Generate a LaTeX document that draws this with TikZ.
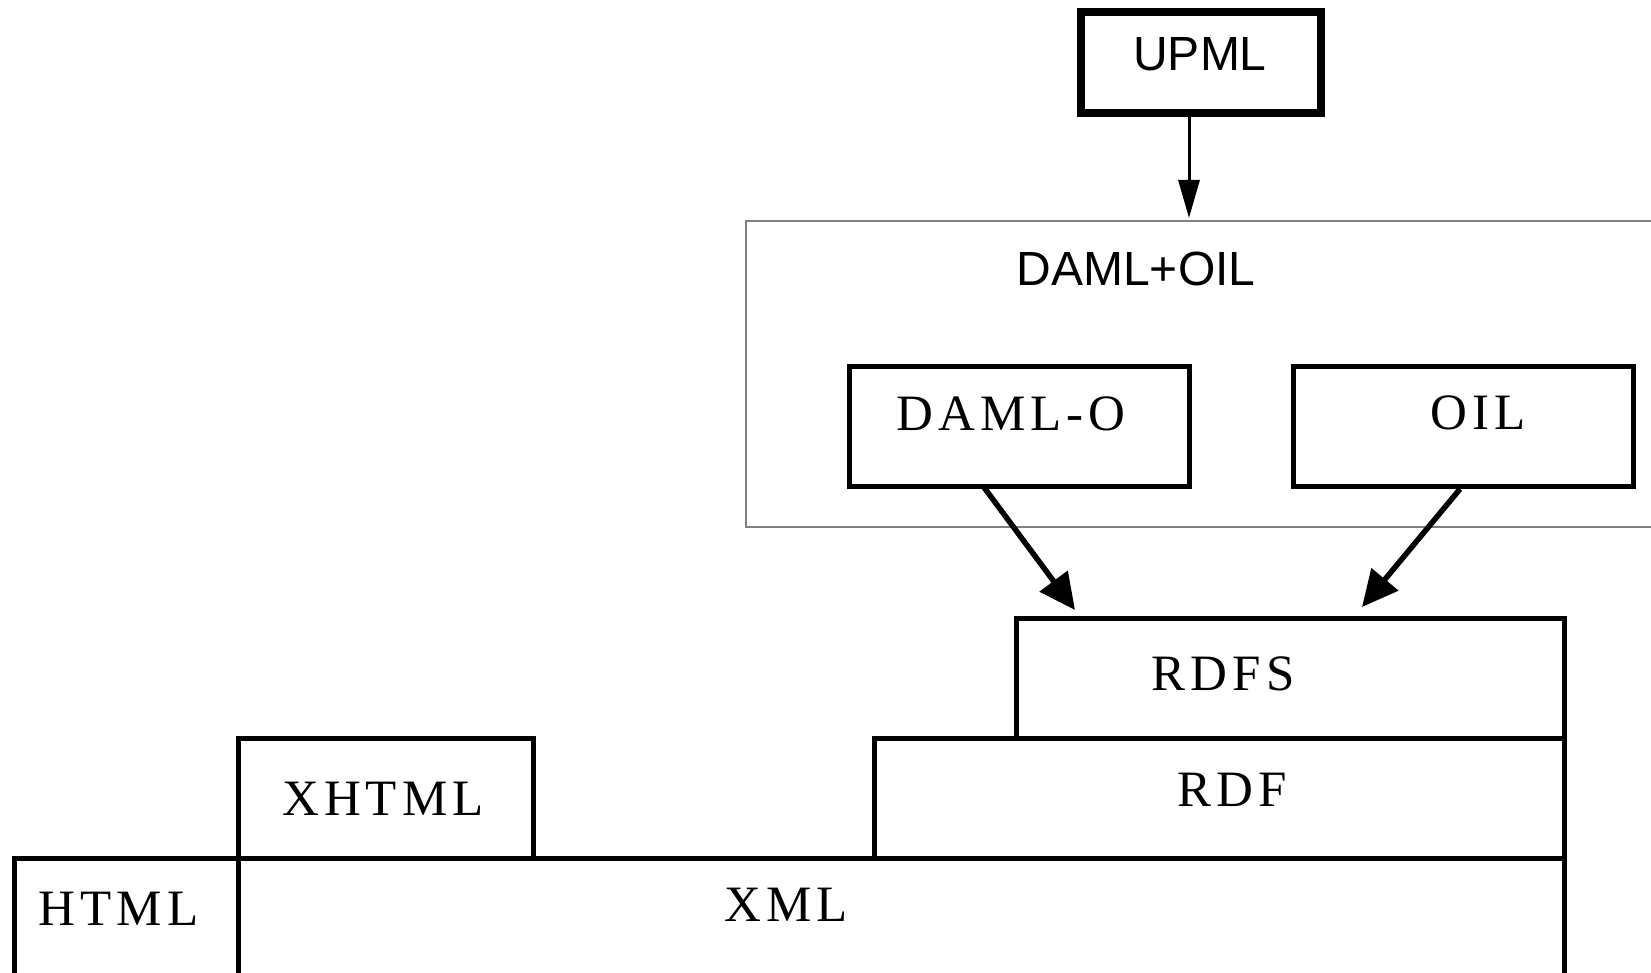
\documentclass[tikz,border=0pt]{standalone}
\usepackage{fontspec}
\setmainfont{Liberation Serif}
\newfontfamily\sansf{Liberation Sans}
\newfontfamily\serift{Liberation Serif}[LetterSpace=10]
\usetikzlibrary{arrows.meta,fit}
\begin{document}
\begin{tikzpicture}[x=1pt,y=-1pt,
  box/.style={draw, line width=5pt, inner sep=0pt, outer sep=0pt},
  thickbox/.style={draw, line width=8pt, inner sep=0pt, outer sep=0pt},
  graybox/.style={draw=black!50, line width=2pt, inner sep=0pt, outer sep=0pt},
  serlbl/.style={font=\serift\fontsize{51}{51}\selectfont, text height=33.5pt, text depth=0pt, inner sep=0pt},
  sanlbl/.style={font=\sansf\fontsize{48}{48}\selectfont, text height=34.5pt, text depth=0pt, inner sep=0pt},
  thinarrow/.style={line width=3pt, -{Triangle[length=38pt,width=21pt]}},
  fatarrow/.style={line width=5.5pt, -{Triangle[length=36pt,width=34pt]}}
]
\useasboundingbox (0,0) rectangle (1651,973);
% boxes
\node[thickbox, fit={(1081,12) (1321,113)}] (upml) {};
\node[graybox, fit={(746,221) (1700,527)}] (damloil) {};
\node[box, fit={(849,366) (1189,486)}] (damlo) {};
\node[box, fit={(1293,366) (1633,486)}] (oil) {};
\node[box, fit={(1016,618) (1564,738)}] (rdfs) {};
\node[box, fit={(874,738) (1564,858)}] (rdf) {};
\node[box, fit={(238,738) (533,858)}] (xhtml) {};
\node[box, fit={(14,858) (238,1000)}] (html) {};
\node[box, fit={(238,858) (1564,1000)}] (xml) {};
% labels
\node[sanlbl] (upmlT) at (1200,53) {UPML};
\node[sanlbl] (damloilT) at (1136,268.5) {DAML+OIL};
\node[serlbl] (damloT) at (1011,413.5) {DAML-O};
\node[serlbl] (oilT) at (1478,413) {OIL};
\node[serlbl] (rdfsT) at (1223,673.5) {RDFS};
\node[serlbl] (rdfT) at (1232,790) {RDF};
\node[serlbl] (xhtmlT) at (383,798.5) {XHTML};
\node[serlbl] (htmlT) at (118.5,908.5) {HTML};
\node[serlbl] (xmlT) at (786,905) {XML};
% connector end points
\coordinate (upmlS) at (1189,113);
\coordinate (upmlE) at (1189,218);
\coordinate (damloS) at (983,486);
\coordinate (damloE) at (1075,610);
\coordinate (oilS) at (1460,489);
\coordinate (oilE) at (1362,607);
\draw[thinarrow] (upmlS) -- (upmlE);
\draw[fatarrow] (damloS) -- (damloE);
\draw[fatarrow] (oilS) -- (oilE);
\end{tikzpicture}
\end{document}
